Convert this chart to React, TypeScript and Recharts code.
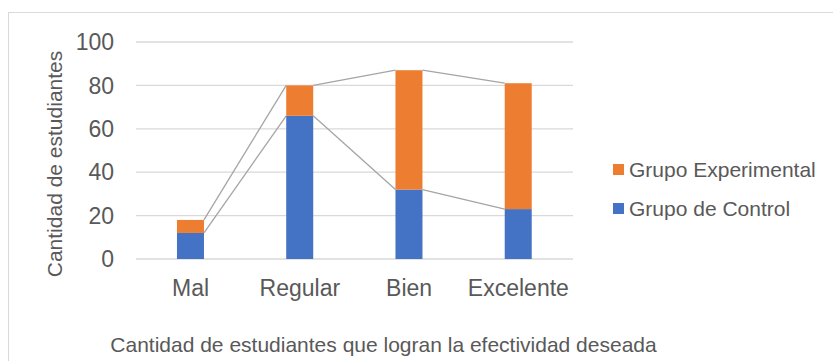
import { BarChart, Bar, XAxis, YAxis, CartesianGrid, Legend } from 'recharts';

const categories = ['Mal', 'Regular', 'Bien', 'Excelente'];
const controlGroup = [12, 66, 32, 23];
const experimentalGroup = [6, 14, 55, 58];
const yTicks = [0, 20, 40, 60, 80, 100];
const legendOrder = ['Grupo Experimental', 'Grupo de Control'];

const yTitle = 'Cantidad de estudiantes';
const xTitle = 'Cantidad de estudiantes que logran la efectividad deseada';

const WIDTH = 833;
const HEIGHT = 361;
const MARGIN = { top: 42, right: 260, bottom: 62, left: 0 };
const Y_AXIS_W = 136;
const BAND = (WIDTH - MARGIN.left - MARGIN.right - Y_AXIS_W) / categories.length;

const BLUE = '#4472C4';
const ORANGE = '#ED7D31';
const TEXT = '#595959';
const GRID = '#d9d9d9';
const SERIES_LINE = '#a5a5a5';

const data = categories.map((name, i) => ({
  name,
  control: controlGroup[i],
  experimental: experimentalGroup[i],
}));

const totals = controlGroup.map((c, i) => c + experimentalGroup[i]);

// bar segment + Excel-style series line to the next stack
function Segment(props: any) {
  const { x, y, width, height, fill, index, segValues, topValues } = props;
  const ppu = segValues[index] ? height / segValues[index] : 0;
  const hasNext = index < topValues.length - 1;
  const nextY = hasNext ? y - (topValues[index + 1] - topValues[index]) * ppu : y;
  return (
    <g>
      <rect x={x} y={y} width={width} height={height} fill={fill} />
      {hasNext && (
        <line x1={x + width} y1={y} x2={x + BAND} y2={nextY} stroke={SERIES_LINE} strokeWidth={1.3} />
      )}
    </g>
  );
}

function LegendBox({ payload }: any) {
  const items = [...(payload || [])].sort(
    (a: any, b: any) => legendOrder.indexOf(a.value) - legendOrder.indexOf(b.value)
  );
  return (
    <div>
      {items.map((item: any) => (
        <div key={item.value} style={{ display: 'flex', alignItems: 'center', height: 39 }}>
          <span style={{ width: 11, height: 11, background: item.color, marginRight: 5, display: 'inline-block' }} />
          <span style={{ fontSize: 21, color: TEXT, whiteSpace: 'nowrap' }}>{item.value}</span>
        </div>
      ))}
    </div>
  );
}

export default function App() {
  return (
    <div
      style={{
        position: 'fixed',
        left: 0,
        top: 0,
        width: WIDTH,
        height: HEIGHT,
        overflow: 'hidden',
        background: '#fff',
        fontFamily: '"Liberation Sans", Arial, sans-serif',
      }}
    >
      <div style={{ position: 'absolute', left: 8, top: 12, width: 900, height: 400, border: `1px solid ${GRID}` }} />
      <div style={{ position: 'absolute', left: 0, top: 0 }}>
        <BarChart width={WIDTH} height={HEIGHT} data={data} margin={MARGIN} barCategoryGap="37.5%">
          <CartesianGrid vertical={false} stroke={GRID} strokeWidth={1.3} />
          <XAxis
            dataKey="name"
            height={40}
            axisLine={false}
            tickLine={false}
            tickSize={6}
            tickMargin={15}
            tick={{ fill: TEXT, fontSize: 23 }}
            label={{
              content: () => (
                <text x={383.5} y={351.5} textAnchor="middle" fill={TEXT} fontSize={21}>
                  {xTitle}
                </text>
              ),
            }}
          />
          <YAxis
            width={Y_AXIS_W}
            domain={[0, 100]}
            ticks={yTicks}
            interval={0}
            axisLine={false}
            tickLine={false}
            tickSize={6}
            tickMargin={16}
            tick={{ fill: TEXT, fontSize: 23 }}
            label={{
              content: () => (
                <text x={62} y={164} transform="rotate(-90, 62, 164)" textAnchor="middle" fill={TEXT} fontSize={21}>
                  {yTitle}
                </text>
              ),
            }}
          />
          <Legend
            layout="horizontal"
            align="center"
            verticalAlign="middle"
            content={<LegendBox />}
            wrapperStyle={{ left: 613, top: 150, width: 220 }}
          />
          <Bar
            dataKey="control"
            name="Grupo de Control"
            stackId="a"
            fill={BLUE}
            isAnimationActive={false}
            shape={(p: any) => <Segment {...p} segValues={controlGroup} topValues={controlGroup} />}
          />
          <Bar
            dataKey="experimental"
            name="Grupo Experimental"
            stackId="a"
            fill={ORANGE}
            isAnimationActive={false}
            shape={(p: any) => <Segment {...p} segValues={experimentalGroup} topValues={totals} />}
          />
        </BarChart>
      </div>
    </div>
  );
}
